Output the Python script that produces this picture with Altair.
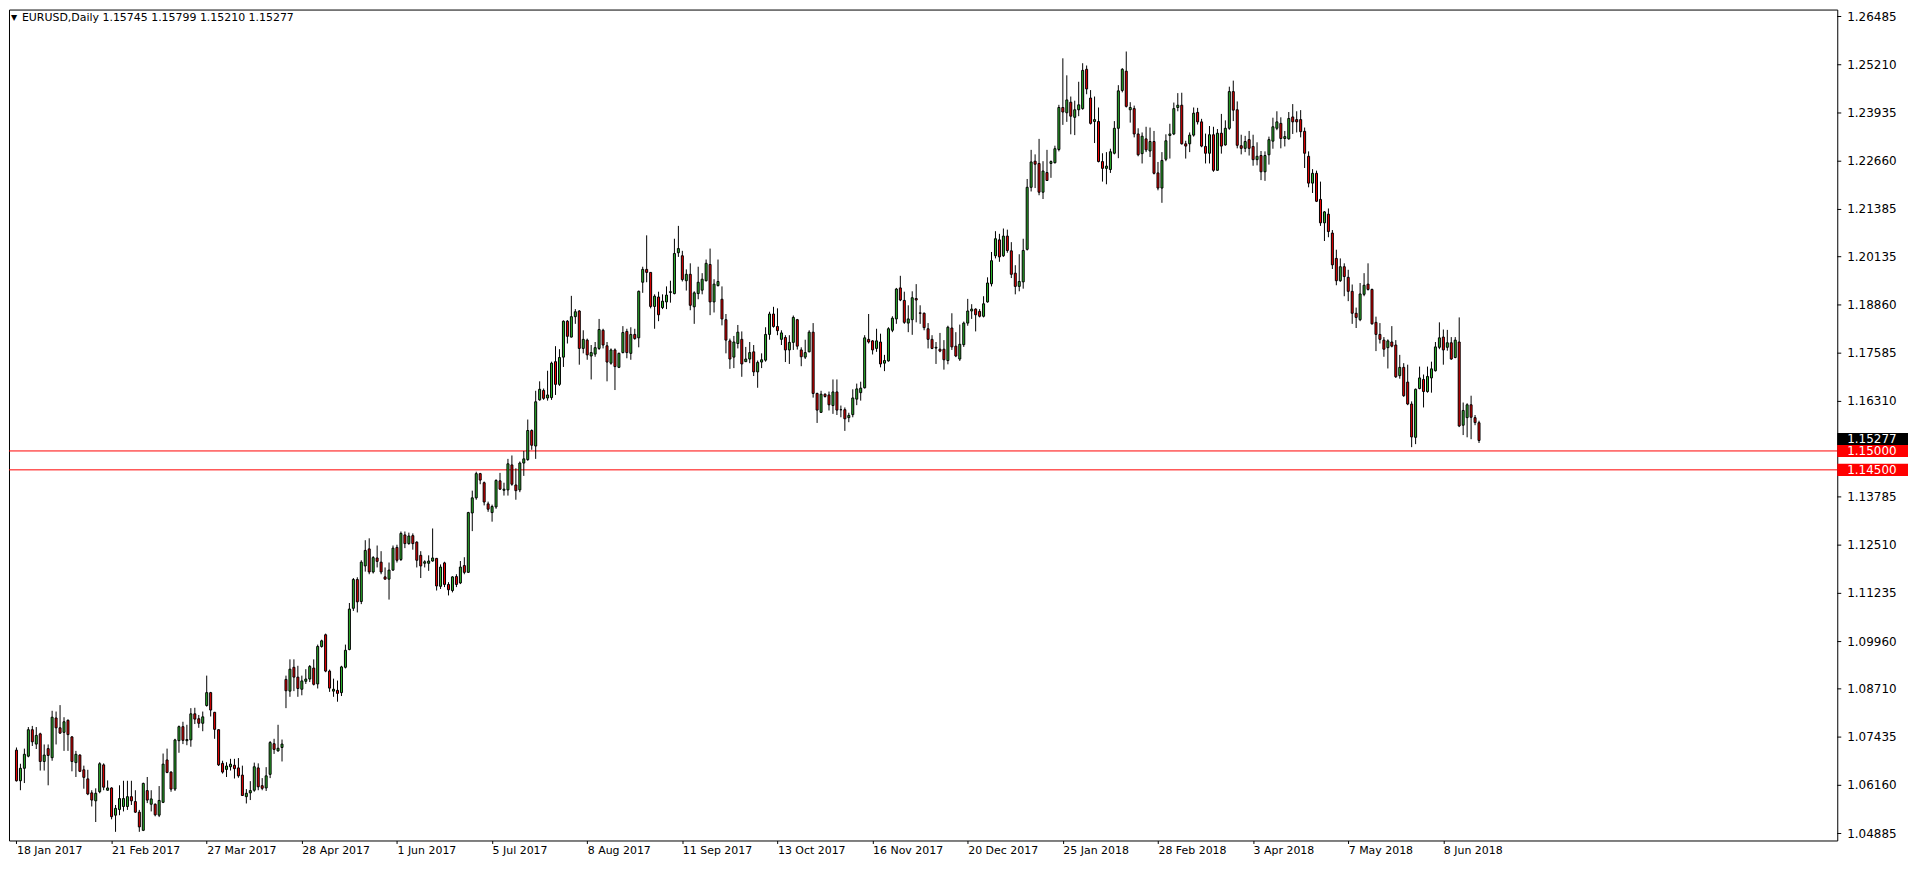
import altair as alt
import pandas as pd

# ---------------- data (EURUSD daily candles) ----------------
opens = [
    1.0709, 1.0628, 1.0661, 1.0693, 1.0763, 1.0725, 1.0752, 1.0679, 1.0713, 1.0689,
    1.0794, 1.0768, 1.0756, 1.0788, 1.0744, 1.0676, 1.0696, 1.0657, 1.0633, 1.0596,
    1.0575, 1.0599, 1.0670, 1.0603, 1.0609, 1.0537, 1.0552, 1.0560, 1.0560, 1.0586,
    1.0573, 1.0545, 1.0497, 1.0602, 1.0566, 1.0566, 1.0537, 1.0571, 1.0683, 1.0651,
    1.0606, 1.0734, 1.0771, 1.0734, 1.0736, 1.0805, 1.0792, 1.0780, 1.0827, 1.0861,
    1.0809, 1.0763, 1.0674, 1.0658, 1.0665, 1.0669, 1.0662, 1.0643, 1.0586, 1.0596,
    1.0603, 1.0662, 1.0615, 1.0609, 1.0645, 1.0726, 1.0707, 1.0716, 1.0896, 1.0865,
    1.0928, 1.0902, 1.0870, 1.0891, 1.0897, 1.0926, 1.0884, 1.0983, 1.1014, 1.0918,
    1.0865, 1.0867, 1.0861, 1.0928, 1.0975, 1.1084, 1.1160, 1.1102, 1.1196, 1.1241,
    1.1180, 1.1217, 1.1206, 1.1167, 1.1161, 1.1185, 1.1245, 1.1213, 1.1278, 1.1255,
    1.1276, 1.1259, 1.1224, 1.1203, 1.1203, 1.1209, 1.1216, 1.1142, 1.1204, 1.1147,
    1.1131, 1.1168, 1.1151, 1.1197, 1.1179, 1.1336, 1.1376, 1.1440, 1.1416, 1.1360,
    1.1337, 1.1352, 1.1421, 1.1396, 1.1397, 1.1463, 1.1410, 1.1397, 1.1468, 1.1477,
    1.1554, 1.1513, 1.1635, 1.1660, 1.1640, 1.1641, 1.1736, 1.1676, 1.1748, 1.1843,
    1.1801, 1.1855, 1.1870, 1.1771, 1.1793, 1.1751, 1.1756, 1.1771, 1.1819, 1.1778,
    1.1732, 1.1767, 1.1721, 1.1760, 1.1816, 1.1758, 1.1808, 1.1799, 1.1946, 1.1980,
    1.1972, 1.1882, 1.1907, 1.1879, 1.1894, 1.1919, 1.1916, 1.2024, 1.2016, 1.1950,
    1.1967, 1.1881, 1.1916, 1.1925, 1.1950, 1.1993, 1.1894, 1.1937, 1.1901, 1.1847,
    1.1791, 1.1748, 1.1784, 1.1795, 1.1736, 1.1743, 1.1762, 1.1709, 1.1735, 1.1740,
    1.1808, 1.1862, 1.1829, 1.1795, 1.1800, 1.1767, 1.1787, 1.1847, 1.1767, 1.1748,
    1.1762, 1.1814, 1.1652, 1.1602, 1.1650, 1.1648, 1.1620, 1.1656, 1.1609, 1.1609,
    1.1588, 1.1596, 1.1637, 1.1654, 1.1667, 1.1795, 1.1791, 1.1771, 1.1788, 1.1732,
    1.1738, 1.1819, 1.1849, 1.1931, 1.1898, 1.1838, 1.1847, 1.1903, 1.1865, 1.1864,
    1.1823, 1.1795, 1.1772, 1.1769, 1.1769, 1.1739, 1.1825, 1.1777, 1.1743, 1.1781,
    1.1838, 1.1870, 1.1875, 1.1869, 1.1856, 1.1894, 1.1942, 1.2016, 1.2058, 1.2016,
    1.2068, 1.2029, 1.1970, 1.1935, 1.1947, 1.2033, 1.2197, 1.2266, 1.2260, 1.2184,
    1.2236, 1.2260, 1.2262, 1.2297, 1.2408, 1.2394, 1.2422, 1.2382, 1.2402, 1.2405,
    1.2509, 1.2433, 1.2371, 1.2371, 1.2265, 1.2247, 1.2244, 1.2287, 1.2353, 1.2453,
    1.2504, 1.2402, 1.2405, 1.2338, 1.2286, 1.2325, 1.2293, 1.2318, 1.2235, 1.2195,
    1.2271, 1.2334, 1.2338, 1.2408, 1.2414, 1.2312, 1.2312, 1.2335, 1.2395, 1.2370,
    1.2305, 1.2287, 1.2336, 1.2242, 1.2340, 1.2309, 1.2353, 1.2450, 1.2402, 1.2307,
    1.2300, 1.2323, 1.2305, 1.2270, 1.2281, 1.2238, 1.2283, 1.2319, 1.2353, 1.2366,
    1.2326, 1.2325, 1.2383, 1.2376, 1.2376, 1.2345, 1.2279, 1.2208, 1.2234, 1.2165,
    1.2103, 1.2126, 1.2076, 1.2009, 1.1950, 1.1987, 1.1959, 1.1922, 1.1864, 1.1847,
    1.1914, 1.1941, 1.1927, 1.1840, 1.1808, 1.1793, 1.1773, 1.1788, 1.1780, 1.1699,
    1.1721, 1.1682, 1.1624, 1.1536, 1.1665, 1.1689, 1.1657, 1.1693, 1.1712, 1.1774,
    1.1801, 1.1774, 1.1786, 1.1747, 1.1788, 1.1568, 1.1588, 1.1622, 1.1588, 1.15745,
]
highs = [
    1.0716, 1.0673, 1.0713, 1.0770, 1.0773, 1.0770, 1.0755, 1.0724, 1.0724, 1.0813,
    1.0811, 1.0828, 1.0796, 1.0790, 1.0746, 1.0707, 1.0698, 1.0668, 1.0657, 1.0603,
    1.0608, 1.0677, 1.0674, 1.0629, 1.0611, 1.0564, 1.0616, 1.0628, 1.0628, 1.0628,
    1.0603, 1.0551, 1.0623, 1.0638, 1.0603, 1.0568, 1.0614, 1.0700, 1.0713, 1.0653,
    1.0739, 1.0774, 1.0784, 1.0776, 1.0820, 1.0821, 1.0802, 1.0811, 1.0906, 1.0863,
    1.0810, 1.0764, 1.0681, 1.0677, 1.0686, 1.0686, 1.0688, 1.0668, 1.0606, 1.0627,
    1.0676, 1.0674, 1.0635, 1.0664, 1.0733, 1.0739, 1.0776, 1.0737, 1.0906, 1.0949,
    1.0949, 1.0932, 1.0906, 1.0923, 1.0934, 1.0949, 1.0988, 1.1001, 1.1017, 1.0922,
    1.0898, 1.0893, 1.0932, 1.0988, 1.1098, 1.1164, 1.1166, 1.1211, 1.1264, 1.1269,
    1.1222, 1.1250, 1.1235, 1.1192, 1.1205, 1.1250, 1.1252, 1.1287, 1.1287, 1.1284,
    1.1282, 1.1261, 1.1235, 1.1211, 1.1224, 1.1295, 1.1217, 1.1200, 1.1207, 1.1153,
    1.1169, 1.1174, 1.1209, 1.1219, 1.1339, 1.1395, 1.1445, 1.1442, 1.1419, 1.1366,
    1.1358, 1.1425, 1.1442, 1.1416, 1.1479, 1.1488, 1.1454, 1.1472, 1.1500, 1.1583,
    1.1557, 1.1659, 1.1684, 1.1665, 1.1712, 1.1736, 1.1777, 1.1769, 1.1845, 1.1846,
    1.1910, 1.1875, 1.1872, 1.1819, 1.1797, 1.1780, 1.1788, 1.1849, 1.1823, 1.1788,
    1.1771, 1.1771, 1.1760, 1.1830, 1.1823, 1.1827, 1.1823, 1.1924, 1.1987, 1.2070,
    1.1972, 1.1914, 1.1921, 1.1914, 1.1935, 1.1950, 1.2061, 1.2095, 1.2029, 1.1980,
    1.1996, 1.1922, 1.1987, 1.1970, 1.2006, 1.2035, 1.1954, 1.2006, 1.1935, 1.1862,
    1.1797, 1.1804, 1.1833, 1.1816, 1.1775, 1.1788, 1.1780, 1.1739, 1.1758, 1.1827,
    1.1868, 1.1881, 1.1877, 1.1819, 1.1806, 1.1806, 1.1858, 1.1849, 1.1774, 1.1794,
    1.1819, 1.1838, 1.1654, 1.1659, 1.1652, 1.1657, 1.1689, 1.1689, 1.1620, 1.1615,
    1.1601, 1.1663, 1.1678, 1.1683, 1.1806, 1.1862, 1.1793, 1.1823, 1.1810, 1.1754,
    1.1827, 1.1856, 1.1931, 1.1963, 1.1921, 1.1885, 1.1922, 1.1941, 1.1885, 1.1866,
    1.1838, 1.1806, 1.1788, 1.1812, 1.1793, 1.1831, 1.1864, 1.1814, 1.1834, 1.1842,
    1.1902, 1.1888, 1.1877, 1.1875, 1.1909, 1.1959, 1.2026, 1.2081, 1.2074, 1.2088,
    1.2085, 1.2052, 1.1991, 1.2020, 1.2061, 1.2219, 1.2296, 1.2284, 1.2325, 1.2266,
    1.2296, 1.2268, 1.2307, 1.2415, 1.2538, 1.2493, 1.2437, 1.2426, 1.2476, 1.2525,
    1.2519, 1.2454, 1.2437, 1.2408, 1.2287, 1.2290, 1.2299, 1.2372, 1.2467, 1.2512,
    1.2556, 1.2422, 1.2413, 1.2353, 1.2342, 1.2357, 1.2355, 1.2346, 1.2264, 1.2290,
    1.2337, 1.2365, 1.2421, 1.2446, 1.2447, 1.2320, 1.2342, 1.2408, 1.2407, 1.2378,
    1.2339, 1.2359, 1.2357, 1.2351, 1.2391, 1.2374, 1.2463, 1.2479, 1.2424, 1.2336,
    1.2333, 1.2346, 1.2336, 1.2316, 1.2293, 1.2292, 1.2331, 1.2381, 1.2398, 1.2382,
    1.2346, 1.2396, 1.2417, 1.2398, 1.2401, 1.2355, 1.2292, 1.2245, 1.2241, 1.2212,
    1.2134, 1.2141, 1.2084, 1.2032, 1.2009, 1.1996, 1.1979, 1.1940, 1.1879, 1.1944,
    1.1970, 1.1996, 1.1929, 1.1855, 1.1838, 1.1801, 1.1795, 1.1830, 1.1793, 1.1754,
    1.1732, 1.1728, 1.1631, 1.1665, 1.1723, 1.1702, 1.1723, 1.1736, 1.1788, 1.1840,
    1.1821, 1.1820, 1.1801, 1.1801, 1.1853, 1.1628, 1.1626, 1.1646, 1.1595, 1.15799,
]
lows = [
    1.0626, 1.0603, 1.0622, 1.0690, 1.0720, 1.0712, 1.0655, 1.0655, 1.0616, 1.0681,
    1.0724, 1.0752, 1.0707, 1.0707, 1.0653, 1.0638, 1.0651, 1.0607, 1.0590, 1.0560,
    1.0519, 1.0595, 1.0603, 1.0602, 1.0526, 1.0493, 1.0537, 1.0547, 1.0551, 1.0564,
    1.0543, 1.0493, 1.0495, 1.0569, 1.0547, 1.0534, 1.0532, 1.0569, 1.0648, 1.0599,
    1.0601, 1.0702, 1.0725, 1.0722, 1.0718, 1.0778, 1.0768, 1.0759, 1.0824, 1.0798,
    1.0739, 1.0667, 1.0647, 1.0638, 1.0655, 1.0634, 1.0636, 1.0588, 1.0568, 1.0577,
    1.0599, 1.0603, 1.0603, 1.0601, 1.0635, 1.0699, 1.0705, 1.0679, 1.0820, 1.0850,
    1.0865, 1.0850, 1.0854, 1.0884, 1.0889, 1.0880, 1.0872, 1.0980, 1.0915, 1.0863,
    1.0850, 1.0837, 1.0852, 1.0925, 1.0973, 1.1077, 1.1073, 1.1095, 1.1181, 1.1174,
    1.1176, 1.1192, 1.1174, 1.1160, 1.1107, 1.1183, 1.1205, 1.1209, 1.1243, 1.1252,
    1.1239, 1.1192, 1.1164, 1.1192, 1.1183, 1.1207, 1.1131, 1.1135, 1.1140, 1.1118,
    1.1126, 1.1140, 1.1148, 1.1174, 1.1178, 1.1288, 1.1371, 1.1412, 1.1356, 1.1339,
    1.1313, 1.1347, 1.1397, 1.1382, 1.1382, 1.1408, 1.1371, 1.1391, 1.1434, 1.1474,
    1.1503, 1.1479, 1.1633, 1.1635, 1.1633, 1.1635, 1.1648, 1.1672, 1.1722, 1.1784,
    1.1800, 1.1836, 1.1728, 1.1758, 1.1741, 1.1689, 1.1749, 1.1767, 1.1771, 1.1684,
    1.1728, 1.1661, 1.1719, 1.1758, 1.1745, 1.1741, 1.1794, 1.1774, 1.1918, 1.1946,
    1.1877, 1.1823, 1.1843, 1.1875, 1.1875, 1.1892, 1.1914, 1.2013, 1.1948, 1.1924,
    1.1872, 1.1836, 1.1901, 1.1914, 1.1948, 1.1859, 1.1866, 1.1935, 1.1832, 1.1758,
    1.1717, 1.1719, 1.1771, 1.1696, 1.1735, 1.1732, 1.1698, 1.1667, 1.1719, 1.1736,
    1.1794, 1.1826, 1.1806, 1.1780, 1.1735, 1.1730, 1.1767, 1.1768, 1.1724, 1.1743,
    1.1761, 1.1641, 1.1574, 1.1601, 1.1641, 1.1607, 1.1598, 1.1595, 1.1589, 1.1553,
    1.1576, 1.1589, 1.1621, 1.1633, 1.1665, 1.1784, 1.1755, 1.1762, 1.1721, 1.1711,
    1.1736, 1.1814, 1.1836, 1.1896, 1.1836, 1.1814, 1.1807, 1.1840, 1.1836, 1.1819,
    1.1771, 1.1769, 1.1730, 1.1761, 1.1715, 1.1729, 1.1767, 1.1748, 1.1738, 1.1775,
    1.1831, 1.1849, 1.1816, 1.1853, 1.1853, 1.1892, 1.1935, 1.2009, 1.2000, 1.2013,
    1.2024, 1.1957, 1.1914, 1.1922, 1.1929, 1.2030, 1.2186, 1.2195, 1.2176, 1.2166,
    1.2214, 1.2222, 1.2260, 1.2292, 1.2362, 1.2370, 1.2337, 1.2335, 1.2385, 1.2402,
    1.2443, 1.2363, 1.2314, 1.2263, 1.2212, 1.2205, 1.2235, 1.2284, 1.2274, 1.2448,
    1.2408, 1.2368, 1.2329, 1.2279, 1.2260, 1.2290, 1.2277, 1.2231, 1.2189, 1.2156,
    1.2266, 1.2273, 1.2335, 1.2398, 1.2310, 1.2273, 1.2290, 1.2331, 1.2363, 1.2303,
    1.2260, 1.2260, 1.2238, 1.2241, 1.2286, 1.2307, 1.2349, 1.2372, 1.2300, 1.2284,
    1.2290, 1.2281, 1.2254, 1.2255, 1.2216, 1.2214, 1.2257, 1.2299, 1.2348, 1.2300,
    1.2305, 1.2323, 1.2338, 1.2342, 1.2329, 1.2248, 1.2197, 1.2182, 1.2158, 1.2095,
    1.2055, 1.2065, 1.1981, 1.1938, 1.1947, 1.1909, 1.1896, 1.1836, 1.1825, 1.1843,
    1.1909, 1.1924, 1.1834, 1.1764, 1.1784, 1.1749, 1.1718, 1.1774, 1.1693, 1.1691,
    1.1643, 1.1621, 1.1510, 1.1518, 1.1663, 1.1615, 1.1654, 1.1654, 1.1710, 1.1769,
    1.1728, 1.1765, 1.1741, 1.1745, 1.1563, 1.1542, 1.1536, 1.1531, 1.1568, 1.15210,
]
closes = [
    1.0628, 1.0661, 1.0698, 1.0763, 1.0731, 1.0748, 1.0679, 1.0696, 1.0695, 1.0796,
    1.0768, 1.0754, 1.0784, 1.0750, 1.0679, 1.0698, 1.0653, 1.0637, 1.0593, 1.0577,
    1.0595, 1.0673, 1.0611, 1.0609, 1.0533, 1.0555, 1.0581, 1.0581, 1.0586, 1.0575,
    1.0545, 1.0506, 1.0621, 1.0577, 1.0580, 1.0538, 1.0576, 1.0672, 1.0650, 1.0606,
    1.0736, 1.0771, 1.0735, 1.0737, 1.0805, 1.0791, 1.0780, 1.0797, 1.0861, 1.0815,
    1.0764, 1.0670, 1.0651, 1.0667, 1.0672, 1.0660, 1.0641, 1.0589, 1.0595, 1.0602,
    1.0665, 1.0612, 1.0608, 1.0641, 1.0729, 1.0711, 1.0714, 1.0725, 1.0866, 1.0923,
    1.0902, 1.0872, 1.0892, 1.0897, 1.0930, 1.0883, 1.0983, 1.0998, 1.0918, 1.0873,
    1.0870, 1.0859, 1.0929, 1.0973, 1.1082, 1.1160, 1.1101, 1.1206, 1.1237, 1.1180,
    1.1218, 1.1208, 1.1180, 1.1161, 1.1185, 1.1243, 1.1211, 1.1282, 1.1255, 1.1275,
    1.1255, 1.1211, 1.1196, 1.1207, 1.1209, 1.1217, 1.1143, 1.1193, 1.1147, 1.1133,
    1.1167, 1.1147, 1.1193, 1.1179, 1.1337, 1.1376, 1.1440, 1.1423, 1.1365, 1.1346,
    1.1353, 1.1422, 1.1399, 1.1399, 1.1466, 1.1412, 1.1395, 1.1468, 1.1479, 1.1554,
    1.1515, 1.1630, 1.1663, 1.1639, 1.1648, 1.1732, 1.1676, 1.1747, 1.1843, 1.1803,
    1.1855, 1.1868, 1.1771, 1.1795, 1.1754, 1.1760, 1.1773, 1.1821, 1.1780, 1.1735,
    1.1767, 1.1723, 1.1758, 1.1813, 1.1760, 1.1808, 1.1797, 1.1922, 1.1980, 1.1972,
    1.1882, 1.1909, 1.1860, 1.1896, 1.1912, 1.1921, 1.2022, 1.2035, 1.1953, 1.1967,
    1.1885, 1.1918, 1.1946, 1.1954, 1.1996, 1.1894, 1.1941, 1.1948, 1.1849, 1.1793,
    1.1743, 1.1788, 1.1814, 1.1730, 1.1743, 1.1760, 1.1709, 1.1734, 1.1741, 1.1808,
    1.1862, 1.1829, 1.1818, 1.1812, 1.1767, 1.1787, 1.1853, 1.1777, 1.1749, 1.1760,
    1.1814, 1.1652, 1.1608, 1.1650, 1.1644, 1.1622, 1.1656, 1.1608, 1.1609, 1.1585,
    1.1594, 1.1640, 1.1664, 1.1666, 1.1799, 1.1788, 1.1767, 1.1791, 1.1730, 1.1739,
    1.1823, 1.1851, 1.1928, 1.1899, 1.1840, 1.1849, 1.1905, 1.1899, 1.1864, 1.1826,
    1.1795, 1.1771, 1.1774, 1.1764, 1.1741, 1.1827, 1.1775, 1.1751, 1.1782, 1.1838,
    1.1870, 1.1875, 1.1860, 1.1856, 1.1889, 1.1944, 1.2003, 1.2061, 1.2013, 1.2068,
    1.2030, 1.1967, 1.1935, 1.1948, 1.2030, 1.2197, 1.2264, 1.2258, 1.2184, 1.2240,
    1.2215, 1.2265, 1.2299, 1.2408, 1.2396, 1.2428, 1.2385, 1.2402, 1.2415, 1.2506,
    1.2457, 1.2366, 1.2376, 1.2265, 1.2247, 1.2253, 1.2291, 1.2353, 1.2452, 1.2509,
    1.2411, 1.2408, 1.2338, 1.2283, 1.2332, 1.2296, 1.2318, 1.2234, 1.2195, 1.2268,
    1.2320, 1.2338, 1.2405, 1.2414, 1.2312, 1.2306, 1.2335, 1.2393, 1.2370, 1.2306,
    1.2287, 1.2336, 1.2242, 1.2340, 1.2306, 1.2353, 1.2450, 1.2401, 1.2308, 1.2300,
    1.2318, 1.2300, 1.2270, 1.2279, 1.2238, 1.2281, 1.2323, 1.2357, 1.2370, 1.2326,
    1.2331, 1.2379, 1.2370, 1.2370, 1.2344, 1.2287, 1.2208, 1.2234, 1.2160, 1.2103,
    1.2132, 1.2080, 1.1992, 1.1950, 1.1987, 1.1961, 1.1922, 1.1864, 1.1853, 1.1915,
    1.1938, 1.1927, 1.1836, 1.1808, 1.1795, 1.1769, 1.1791, 1.1777, 1.1696, 1.1721,
    1.1646, 1.1624, 1.1537, 1.1663, 1.1693, 1.1657, 1.1697, 1.1717, 1.1775, 1.1799,
    1.1767, 1.1786, 1.1743, 1.1793, 1.1566, 1.1607, 1.1622, 1.1589, 1.1575, 1.15277,
]

date_labels = ["18 Jan 2017", "21 Feb 2017", "27 Mar 2017", "28 Apr 2017", "1 Jun 2017",
               "5 Jul 2017", "8 Aug 2017", "11 Sep 2017", "13 Oct 2017", "16 Nov 2017",
               "20 Dec 2017", "25 Jan 2018", "28 Feb 2018", "3 Apr 2018", "7 May 2018",
               "8 Jun 2018"]
date_label_bars = [0, 24, 48, 72, 96, 120, 144, 168, 192, 216, 240, 264, 288, 312, 336, 360]

price_ticks = [1.26485, 1.25210, 1.23935, 1.22660, 1.21385, 1.20135, 1.18860, 1.17585,
               1.16310, 1.13785, 1.12510, 1.11235, 1.09960, 1.08710, 1.07435, 1.06160, 1.04885]

level_prices = [1.15000, 1.14500]
last_price = [1.15277]

symbol = "EURUSD,Daily"

# ---------------- layout ----------------
W = 1835
H = 834
FONT = "DejaVu Sans"
GREEN = "#2CB52C"
RED = "#F00000"
LEVEL_RED = "#FF0000"
LABEL_X = W + 10

df = pd.DataFrame({"i": list(range(len(opens))), "open": opens, "high": highs,
                   "low": lows, "close": closes})
df["dir"] = ["up" if c >= o else "down" for o, c in zip(opens, closes)]

x_scale = alt.Scale(domain=[-0.625, -0.625 + W / 4.0], nice=False, zero=False)
y_scale = alt.Scale(domain=[1.04701, 1.26669], nice=False, zero=False)

label_array = "[" + ",".join("'" + s + "'" for s in date_labels) + "]"

x_axis = alt.Axis(values=date_label_bars, labelExpr=label_array + "[round(datum.value / 24)]",
                  labelAlign="left", labelBaseline="top", labelPadding=1, tickSize=3,
                  tickColor="black", labelFont=FONT, labelFontSize=11, labelColor="black",
                  domain=False, grid=False, title=None, labelOverlap=False, labelFlush=False,
                  labelBound=False, orient="bottom")


def Y(field):
    return alt.Y(field, scale=y_scale, axis=None)


base = alt.Chart(df)

wicks = base.mark_rule(color="black", strokeWidth=1).encode(
    x=alt.X("i:Q", scale=x_scale, axis=x_axis),
    y=Y("low:Q"),
    y2="high:Q",
)

bodies = base.mark_bar(size=2, stroke="black", strokeWidth=1).encode(
    x=alt.X("i:Q", scale=x_scale),
    y=Y("open:Q"),
    y2="close:Q",
    color=alt.Color("dir:N", scale=alt.Scale(domain=["up", "down"], range=[GREEN, RED]),
                    legend=None),
)

# right-hand price scale: tick marks and labels
ticks_df = pd.DataFrame({"price": price_ticks, "label": [f"{p:.5f}" for p in price_ticks]})
y_ticks = alt.Chart(ticks_df).mark_rect(color="black").encode(
    x=alt.value(W), x2=alt.value(W + 4), y=Y("t0:Q"), y2="t1:Q"
).transform_calculate(t0="datum.price + 0.00013", t1="datum.price - 0.00013")
y_labels = alt.Chart(ticks_df).mark_text(align="left", baseline="middle", color="black",
                                         font=FONT, fontSize=12).encode(
    x=alt.value(LABEL_X), y=Y("price:Q"), text="label:N")

levels_df = pd.DataFrame({"price": level_prices})
levels = alt.Chart(levels_df).mark_rule(color=LEVEL_RED, strokeWidth=1).encode(
    y=Y("price:Q")
)


def price_box(prices, fill, shift):
    d = pd.DataFrame({"price": prices, "label": [f"{p:.5f}" for p in prices]})
    box = alt.Chart(d).mark_rect(color=fill).encode(
        x=alt.value(W), x2=alt.value(W + 71),
        y=Y("top:Q"), y2="bot:Q",
    ).transform_calculate(top=f"datum.price + 0.0016 + {shift}",
                          bot=f"datum.price - 0.0016 + {shift}")
    txt = alt.Chart(d).mark_text(align="left", baseline="middle", color="white",
                                 font=FONT, fontSize=12).encode(
        x=alt.value(LABEL_X),
        y=Y("mid:Q"),
        text="label:N",
    ).transform_calculate(mid=f"datum.price + {shift}")
    return box, txt


last_rect, last_txt = price_box(last_price, "black", 0.0004)
lvl_rect, lvl_txt = price_box(level_prices, LEVEL_RED, 0.0)

header_df = pd.DataFrame({"t": [f"{symbol}  {opens[-1]:.5f} {highs[-1]:.5f} {lows[-1]:.5f} {closes[-1]:.5f}"]})
header = alt.Chart(header_df).mark_text(align="left", baseline="middle", font=FONT,
                                        fontSize=11, color="black").encode(
    x=alt.value(13), y=alt.value(8), text="t:N")
tri = alt.Chart(pd.DataFrame({"t": ["\u25bc"]})).mark_text(align="left", baseline="middle",
                                                          font=FONT, fontSize=8,
                                                          color="black").encode(
    x=alt.value(2), y=alt.value(8), text="t:N")

chart = alt.layer(levels, wicks, bodies, y_ticks, y_labels, last_rect, lvl_rect,
                  last_txt, lvl_txt, header, tri).properties(
    width=W, height=H, background="white",
    padding={"left": 0, "top": 0, "right": 0, "bottom": 0},
).configure_view(stroke="black", strokeWidth=1, fill="white")

chart.save("out.html", embed_options={"renderer": "svg", "actions": False})
